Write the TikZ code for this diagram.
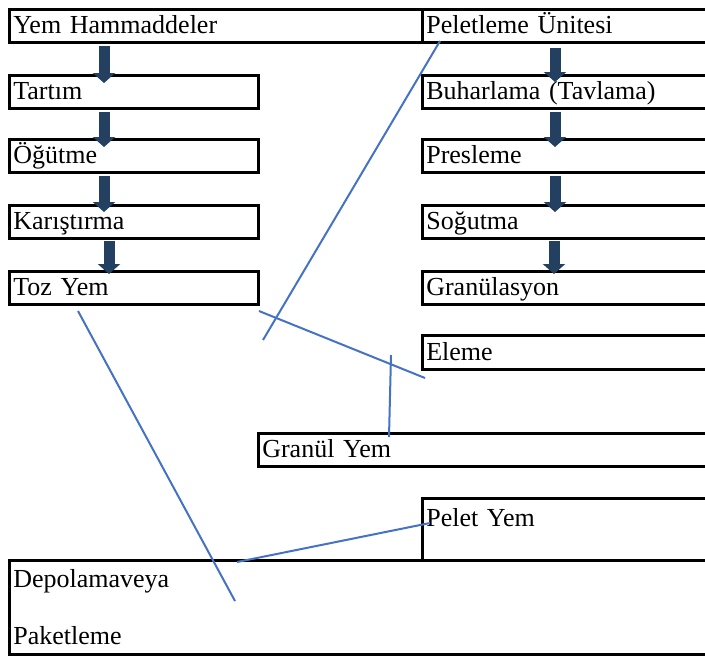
\documentclass[tikz,border=0pt]{standalone}
\usepackage{fontspec}
\setmainfont{Liberation Serif}
\usetikzlibrary{arrows.meta}
\definecolor{flowblue}{RGB}{36,64,97}
\definecolor{linkblue}{RGB}{68,114,196}

\begin{document}
\begin{tikzpicture}[x=0.5pt,y=-0.5pt,
    box/.style={draw, line width=1.3pt, anchor=north west, inner xsep=2pt, inner ysep=0pt, align=left, font=\fontsize{13}{15.6}\selectfont},
    row/.style={box, text width=#1, text height=10pt, text depth=2pt, minimum height=16.5pt},
    flow/.style={flowblue, line width=5.5pt, -{Triangle[width=11pt,length=5pt]}},
    link/.style={linkblue, line width=1pt}]
    \useasboundingbox (0,0) rectangle (705,655);

    % left column
    \node[row=202.5pt] (hammadde) at (8,8) {Yem Hammaddeler};
    \node[row=120.5pt] (tartim) at (8,74) {Tartım};
    \node[row=120.5pt] (ogutme) at (8,138) {Öğütme};
    \node[row=120.5pt] (karistirma) at (8,204) {Karıştırma};
    \node[row=120.5pt] (tozyem) at (8,270) {Toz Yem};

    % right column
    \node[row=141.5pt] (peletleme) at (421,8) {Peletleme Ünitesi};
    \node[row=141.5pt] (buharlama) at (421,74) {Buharlama (Tavlama)};
    \node[row=141.5pt] (presleme) at (421,138) {Presleme};
    \node[row=141.5pt] (sogutma) at (421,204) {Soğutma};
    \node[row=141.5pt] (granulasyon) at (421,270) {Granülasyon};
    \node[row=141.5pt, minimum height=17pt] (eleme) at (421,334) {Eleme};

    \node[row=223.5pt] (granulyem) at (257,432) {Granül Yem};
    \node[box, text width=141.5pt, text height=14pt, text depth=17pt] (peletyem) at (421,497) {Pelet Yem};
    \node[box, text width=348pt, minimum height=47pt] (depolama) at (8,559) {Depolamaveya\\[13pt]Paketleme};

    \draw[flow] ([xshift=48pt,yshift=-1pt]hammadde.south west) -- ([xshift=48pt,yshift=-4.5pt]tartim.north west);
    \draw[flow] ([xshift=48pt,yshift=-1pt]tartim.south west) -- ([xshift=48pt,yshift=-4.5pt]ogutme.north west);
    \draw[flow] ([xshift=48pt,yshift=-1pt]ogutme.south west) -- ([xshift=48pt,yshift=-4pt]karistirma.north west);
    \draw[flow] ([xshift=50.5pt,yshift=-0.5pt]karistirma.south west) -- ([xshift=50.5pt,yshift=-2pt]tozyem.north west);

    \draw[flow] ([xshift=67pt,yshift=-2pt]peletleme.south west) -- ([xshift=67pt,yshift=-4pt]buharlama.north west);
    \draw[flow] ([xshift=67pt,yshift=-1pt]buharlama.south west) -- ([xshift=67pt,yshift=-4.5pt]presleme.north west);
    \draw[flow] ([xshift=67pt,yshift=-1pt]presleme.south west) -- ([xshift=67pt,yshift=-4pt]sogutma.north west);
    \draw[flow] ([xshift=66.5pt,yshift=-0.5pt]sogutma.south west) -- ([xshift=66.5pt,yshift=-2pt]granulasyon.north west);

    % loose lines
    \coordinate (a1) at (440,41);
    \coordinate (a2) at (263,340);
    \coordinate (b1) at (259,311);
    \coordinate (b2) at (425,378);
    \coordinate (c1) at (391,355);
    \coordinate (c2) at (389,437);
    \coordinate (d1) at (78,311);
    \coordinate (d2) at (235,601);
    \coordinate (e1) at (237,562);
    \coordinate (e2) at (430,523);
    \draw[link] (a1) -- (a2);
    \draw[link] (b1) -- (b2);
    \draw[link] (c1) -- (c2);
    \draw[link] (d1) -- (d2);
    \draw[link] (e1) -- (e2);
\end{tikzpicture}
\end{document}
